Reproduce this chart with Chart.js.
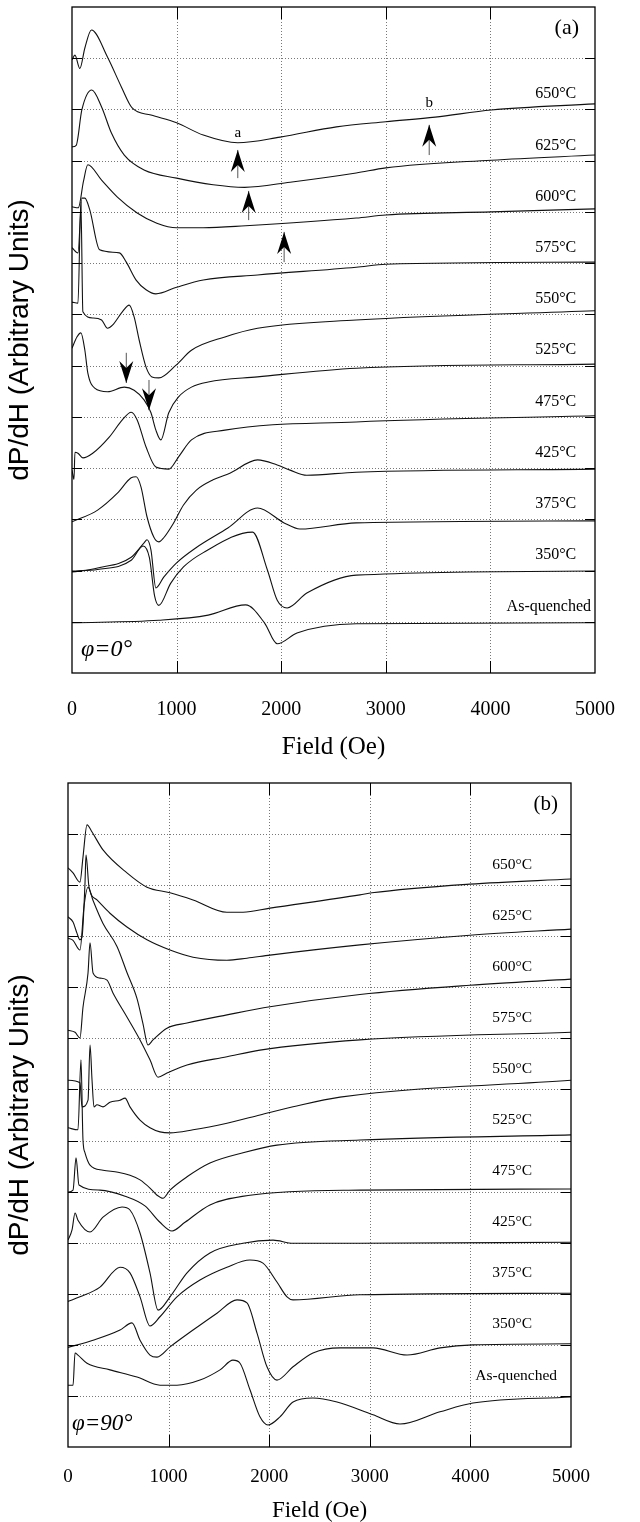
<!DOCTYPE html>
<html>
<head>
<meta charset="utf-8">
<script src="https://cdn.jsdelivr.net/npm/chart.js@4.4.0/dist/chart.umd.min.js"></script>
<style>
  body { margin: 0; background: #fff; }
  #wrapA { position: absolute; left: 0; top: 0; }
  #wrapB { position: absolute; left: 0; top: 760px; }
</style>
</head>
<body>
<div id="wrapA"><canvas id="chartA" width="640" height="760"></canvas></div>
<div id="wrapB"><canvas id="chartB" width="640" height="762"></canvas></div>
<script>
// field ticks (Oe)
const fieldTicks = [0, 1000, 2000, 3000, 4000, 5000];
const names = ['650°C', '625°C', '600°C', '575°C', '550°C', '525°C', '475°C', '425°C', '375°C', '350°C', 'As-quenched'];

// (a) phi = 0 : [field, dP/dH offset]
const a650 = [[0,11.97],[28,12.06],[75,11.8],[123,12.2],[186,12.55],[340,12.02],[472,11.44],[575,11.03],[755,10.89],[1000,10.74],[1255,10.5],[1585,10.35],[1990,10.46],[2528,10.66],[3000,10.76],[3472,10.85],[4009,10.99],[5000,11.11]];
const a625 = [[0,10.27],[40,10.3],[94,10.99],[189,11.38],[283,11.05],[377,10.54],[500,10.11],[689,9.82],[1000,9.66],[1349,9.53],[1650,9.48],[2085,9.58],[2717,9.76],[3000,9.86],[4009,10.01],[5000,10.11]];
const a600 = [[0,9.1],[60,9.08],[110,9.6],[151,9.92],[283,9.62],[434,9.29],[623,8.98],[811,8.78],[1000,8.69],[1255,8.69],[1660,8.73],[2717,8.88],[3000,8.94],[4009,9.0],[5000,9.06]];
const a575 = [[0,8.3],[57,8.2],[94,9.27],[123,9.27],[170,9.04],[264,8.26],[453,8.2],[519,8.02],[613,7.67],[708,7.48],[802,7.4],[1000,7.53],[1255,7.67],[1774,7.77],[2717,7.92],[3000,7.98],[5000,8.02]];
const a550 = [[0,7.24],[57,7.22],[85,9.2],[104,7.05],[198,6.93],[283,6.89],[340,6.73],[387,6.79],[481,7.05],[547,7.18],[594,6.95],[642,6.5],[708,5.97],[764,5.78],[830,5.76],[995,6.01],[1142,6.3],[1462,6.56],[1774,6.73],[2717,6.89],[5000,7.07]];
const a525 = [[0,6.34],[47,6.56],[85,6.64],[123,6.3],[151,5.86],[217,5.56],[340,5.49],[500,5.58],[594,5.52],[689,5.33],[755,5.08],[802,4.74],[849,4.55],[925,5.08],[1019,5.39],[1142,5.58],[1302,5.68],[1774,5.78],[2717,5.95],[5000,6.03]];
const a475 = [[0,3.96],[19,3.78],[28,4.31],[57,4.29],[104,4.2],[198,4.29],[358,4.61],[481,4.94],[566,5.09],[623,4.94],[708,4.41],[802,4.02],[925,3.98],[1019,4.22],[1142,4.55],[1462,4.74],[2717,4.9],[5000,5.02]];
const a425 = [[0,2.95],[245,3.18],[434,3.51],[566,3.81],[613,3.83],[660,3.63],[717,3.05],[783,2.65],[830,2.56],[877,2.64],[972,2.93],[1066,3.28],[1189,3.57],[1349,3.77],[1509,3.9],[1774,4.16],[1962,4.06],[2085,3.96],[2245,3.86],[2717,3.92],[5000,3.98]];
const a375 = [[0,1.97],[245,2.05],[566,2.26],[689,2.54],[717,2.6],[755,2.4],[802,1.66],[877,1.87],[1000,2.15],[1189,2.45],[1490,2.83],[1774,3.22],[2028,2.93],[2179,2.81],[2717,2.93],[5000,2.97]];
const a350 = [[0,1.99],[245,2.02],[566,2.2],[680,2.48],[740,2.25],[790,1.5],[830,1.32],[943,1.75],[1066,2.07],[1255,2.35],[1726,2.75],[1868,2.01],[1962,1.42],[2057,1.27],[2245,1.56],[2717,1.91],[5000,1.99]];
const aAQ = [[0,0.98],[830,1.03],[1302,1.13],[1660,1.33],[1840,0.98],[1962,0.57],[2151,0.78],[2717,0.96],[5000,0.98]];

// (b) phi = 90
const b650 = [[0,11.34],[50,11.24],[119,11.06],[149,11.55],[189,12.18],[239,12.04],[348,11.69],[586,11.24],[785,10.96],[1014,10.85],[1243,10.71],[1580,10.47],[1740,10.47],[2008,10.55],[2902,10.81],[3022,10.85],[3996,11.02],[5000,11.12]];
const b625 = [[0,10.38],[50,10.28],[89,10.06],[119,9.93],[139,9.98],[169,11.04],[179,11.59],[209,10.96],[288,10.71],[417,10.45],[586,10.18],[785,9.93],[1014,9.73],[1243,9.59],[1580,9.53],[1779,9.57],[2008,9.63],[2902,9.83],[3996,10.02],[5000,10.14]];
const b600 = [[0,9.96],[50,9.92],[119,9.73],[160,10.6],[199,10.96],[249,10.7],[348,10.25],[487,9.8],[586,9.29],[686,8.78],[745,8.29],[795,7.87],[845,7.97],[984,8.2],[1183,8.3],[1580,8.46],[2008,8.62],[2902,8.86],[3996,9.04],[5000,9.16]];
const b575 = [[0,8.16],[70,8.12],[119,8.01],[149,8.61],[199,9.28],[219,9.87],[249,9.28],[318,9.18],[388,9.14],[447,8.89],[586,8.42],[716,7.97],[815,7.58],[895,7.24],[984,7.32],[1183,7.48],[1580,7.64],[1908,7.77],[2902,7.97],[5000,8.12]];
const b550 = [[0,7.18],[119,7.13],[139,6.66],[199,6.79],[219,7.87],[239,7.18],[258,6.66],[288,6.7],[348,6.66],[417,6.75],[517,6.79],[567,6.83],[616,6.66],[716,6.4],[815,6.25],[914,6.17],[1014,6.15],[1243,6.21],[1580,6.34],[1908,6.5],[2237,6.66],[2704,6.85],[5000,7.18]];
const b525 = [[0,6.25],[99,6.21],[129,7.58],[149,6.01],[169,5.76],[219,5.52],[348,5.42],[497,5.38],[616,5.32],[716,5.23],[815,5.07],[885,4.93],[944,4.87],[1014,5.03],[1183,5.29],[1411,5.56],[1740,5.76],[2077,5.91],[2902,6.01],[5000,6.11]];
const b475 = [[0,4.99],[50,5.03],[80,5.66],[109,5.13],[318,5.03],[567,4.91],[765,4.72],[914,4.4],[1034,4.23],[1163,4.4],[1411,4.74],[1809,4.93],[2902,5.03],[5000,5.05]];
const b425 = [[0,4.05],[40,4.25],[70,4.58],[99,4.44],[219,4.21],[348,4.5],[537,4.7],[616,4.64],[716,4.19],[815,3.41],[895,2.68],[1014,2.94],[1183,3.41],[1411,3.8],[1740,3.99],[2038,4.05],[2237,3.99],[2902,3.99],[5000,4.01]];
const b375 = [[0,2.85],[119,2.94],[318,3.13],[517,3.52],[616,3.41],[716,2.94],[815,2.37],[914,2.55],[1083,2.94],[1312,3.27],[1580,3.52],[1809,3.66],[1938,3.6],[2077,3.23],[2177,2.94],[2237,2.88],[2902,2.98],[5000,3.01]];
const b350 = [[0,1.95],[249,2.09],[517,2.29],[636,2.43],[716,2.09],[815,1.8],[885,1.76],[1014,1.96],[1243,2.29],[1481,2.62],[1680,2.88],[1779,2.82],[1879,2.23],[1978,1.57],[2077,1.31],[2237,1.57],[2435,1.84],[2704,1.94],[3032,1.94],[3370,1.8],[3698,1.94],[4026,2.0],[5000,2.02]];
const bAQ = [[0,1.21],[50,1.21],[70,1.84],[99,1.8],[189,1.64],[417,1.51],[686,1.37],[914,1.21],[1083,1.21],[1312,1.31],[1511,1.51],[1640,1.7],[1710,1.64],[1809,1.12],[1908,0.59],[1988,0.43],[2107,0.59],[2237,0.88],[2435,0.96],[2674,0.88],[3032,0.63],[3300,0.45],[3698,0.69],[4026,0.86],[5000,0.98]];

const curvesA = [a650, a625, a600, a575, a550, a525, a475, a425, a375, a350, aAQ];
const curvesB = [b650, b625, b600, b575, b550, b525, b475, b425, b375, b350, bAQ];

function decorPlugin(cfg) {
  return {
    id: 'decor' + cfg.tag,
    beforeDatasetsDraw(chart) {
      const { ctx, chartArea: a, scales: { x, y } } = chart;
      ctx.save();
      ctx.strokeStyle = '#777';
      ctx.lineWidth = 1;
      ctx.setLineDash([1, 2]);
      ctx.beginPath();
      fieldTicks.forEach(v => {
        if (v <= 0 || v >= 5000) return;
        const px = Math.round(x.getPixelForValue(v)) + 0.5;
        ctx.moveTo(px, a.top); ctx.lineTo(px, a.bottom);
      });
      for (let k = 1; k <= 12; k++) {
        const py = Math.round(y.getPixelForValue(k)) + 0.5;
        ctx.moveTo(a.left, py); ctx.lineTo(a.right, py);
      }
      ctx.stroke();
      ctx.restore();
    },
    afterDatasetsDraw(chart) {
      const { ctx, chartArea: a, scales: { x, y } } = chart;
      ctx.save();
      // frame + inner ticks
      ctx.strokeStyle = '#000';
      ctx.lineWidth = 1.3;
      ctx.strokeRect(a.left, a.top, a.right - a.left, a.bottom - a.top);
      ctx.lineWidth = 1;
      ctx.beginPath();
      fieldTicks.forEach(v => {
        if (v <= 0 || v >= 5000) return;
        const px = Math.round(x.getPixelForValue(v)) + 0.5;
        ctx.moveTo(px, a.top); ctx.lineTo(px, a.top + 12);
        ctx.moveTo(px, a.bottom); ctx.lineTo(px, a.bottom - 12);
      });
      for (let k = 1; k <= 12; k++) {
        const py = Math.round(y.getPixelForValue(k)) + 0.5;
        ctx.moveTo(a.left, py); ctx.lineTo(a.left + 10, py);
        ctx.moveTo(a.right, py); ctx.lineTo(a.right - 10, py);
      }
      ctx.stroke();

      // curve labels
      ctx.fillStyle = '#000';
      ctx.textBaseline = 'middle';
      ctx.textAlign = 'right';
      names.forEach((n, i) => {
        const last = i === names.length - 1;
        ctx.font = cfg.labelSize + 'px "Liberation Serif", serif';
        const xv = last ? cfg.aqX : cfg.labelX;
        ctx.fillText(n, x.getPixelForValue(xv), y.getPixelForValue(11 - i + cfg.labelLift));
      });

      // panel tag
      ctx.font = cfg.tagSize + 'px "Liberation Serif", serif';
      ctx.textAlign = 'right';
      ctx.fillText(cfg.tag, a.right - cfg.tagDx, a.top + 21);

      // angle
      ctx.font = 'italic ' + cfg.phiSize + 'px "Liberation Serif", serif';
      ctx.textAlign = 'left';
      ctx.fillText(cfg.phi, a.left + cfg.phiDx, a.bottom - 23);

      // arrows
      (cfg.arrows || []).forEach(ar => {
        const px = x.getPixelForValue(ar.x);
        const tip = y.getPixelForValue(ar.tip);
        const tail = y.getPixelForValue(ar.tail);
        const dir = tail > tip ? 1 : -1; // 1: arrow points up
        ctx.strokeStyle = '#555';
        ctx.lineWidth = 1;
        ctx.beginPath();
        ctx.moveTo(px, tip); ctx.lineTo(px, tail);
        ctx.stroke();
        ctx.fillStyle = '#000';
        ctx.beginPath();
        ctx.moveTo(px, tip);
        ctx.lineTo(px - 7, tip + dir * 22);
        ctx.lineTo(px, tip + dir * 15);
        ctx.lineTo(px + 7, tip + dir * 22);
        ctx.closePath();
        ctx.fill();
      });
      (cfg.notes || []).forEach(nt => {
        ctx.font = '15px "Liberation Serif", serif';
        ctx.textAlign = 'center';
        ctx.fillStyle = '#000';
        ctx.fillText(nt.t, x.getPixelForValue(nt.x), y.getPixelForValue(nt.y));
      });
      ctx.restore();
    }
  };
}

function buildPanel(id, curves, g, cfg) {
  return new Chart(document.getElementById(id), {
    type: 'scatter',
    data: {
      datasets: curves.map((pts, i) => ({
        label: names[i],
        data: pts.map(p => ({ x: p[0], y: p[1] })),
        showLine: true,
        borderColor: '#111',
        borderWidth: 1.1,
        pointRadius: 0,
        cubicInterpolationMode: 'monotone',
        fill: false
      }))
    },
    options: {
      responsive: false,
      animation: false,
      layout: { padding: { top: g.top, right: g.right, left: 0, bottom: 0 } },
      plugins: { legend: { display: false }, tooltip: { enabled: false } },
      scales: {
        x: {
          type: 'linear', min: 0, max: 5000,
          afterBuildTicks: s => { s.ticks = fieldTicks.map(v => ({ value: v })); },
          afterFit: s => { s.height = g.xh; },
          grid: { display: false, drawTicks: false },
          border: { display: false },
          ticks: { color: '#000', font: { family: 'Liberation Serif', size: g.tickSize }, padding: g.tickPad, maxRotation: 0,
                   callback: v => String(v) },
          title: { display: true, text: 'Field (Oe)', color: '#000', font: { family: 'Liberation Serif', size: g.titleSize, lineHeight: 1 }, padding: 0 }
        },
        y: {
          min: 0, max: 13,
          afterFit: s => { s.width = g.left; },
          grid: { display: false, drawTicks: false },
          border: { display: false },
          ticks: { display: false, stepSize: 1 },
          title: { display: true, text: 'dP/dH (Arbitrary Units)', color: '#000', font: { family: 'Liberation Sans', size: g.ySize, lineHeight: 1.2 }, padding: { top: 3, bottom: 0 } }
        }
      }
    },
    plugins: [decorPlugin(cfg)]
  });
}

buildPanel('chartA', curvesA,
  { top: 7, right: 38, left: 72, xh: 87, tickSize: 20, tickPad: 25, titleSize: 25, ySize: 28 },
  { tag: '(a)', tagSize: 22, tagDx: 16, phi: 'φ=0°', phiSize: 24, phiDx: 9, labelSize: 16, labelX: 4821, aqX: 4962, labelLift: 0.3,
    arrows: [
      { x: 1585, tip: 10.21, tail: 9.66 },
      { x: 1689, tip: 9.41, tail: 8.84 },
      { x: 2028, tip: 8.61, tail: 8.02 },
      { x: 3415, tip: 10.7, tail: 10.11 },
      { x: 519, tip: 5.66, tail: 6.25 },
      { x: 736, tip: 5.13, tail: 5.72 }
    ],
    notes: [{ t: 'a', x: 1585, y: 10.54 }, { t: 'b', x: 3415, y: 11.13 }]
  });

buildPanel('chartB', curvesB,
  { top: 23, right: 69, left: 68, xh: 75, tickSize: 19, tickPad: 19, titleSize: 23, ySize: 28 },
  { tag: '(b)', tagSize: 21, tagDx: 13, phi: 'φ=90°', phiSize: 23, phiDx: 4, labelSize: 15.5, labelX: 4612, aqX: 4861, labelLift: 0.4 });
</script>
</body>
</html>
